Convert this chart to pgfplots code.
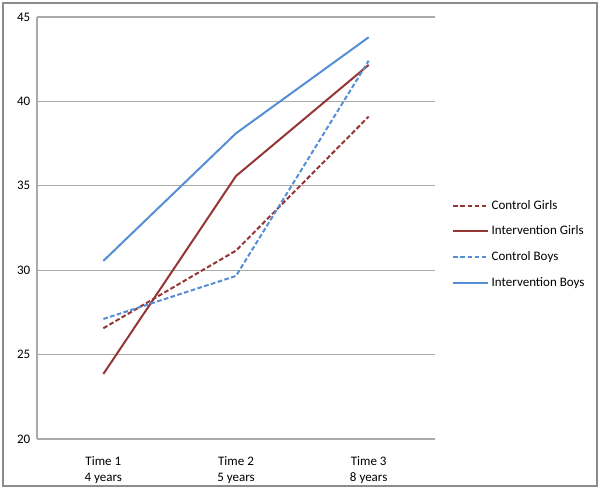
\documentclass[border=0pt]{standalone}
\usepackage{fontspec}
\setmainfont{Carlito}
\usepackage{pgfplots}
\pgfplotsset{compat=1.18}
\definecolor{cred}{RGB}{150,54,52}
\definecolor{cblue}{RGB}{85,142,213}
\definecolor{gridc}{RGB}{170,170,170}
\definecolor{framec}{RGB}{140,140,140}
\begin{document}
\begin{tikzpicture}
\useasboundingbox (-27.75pt,-37.5pt) rectangle (422.25pt,329.25pt);
\draw[framec, line width=1.1pt] (-25.5pt,-35.25pt) rectangle (420pt,327pt);
\begin{axis}[
  at={(0pt,0pt)}, anchor=south west,
  scale only axis,
  width=298.5pt, height=316.5pt,
  xmin=0.5, xmax=3.5,
  ymin=20, ymax=45,
  ytick={20,25,30,35,40,45},
  xtick={1,2,3},
  xticklabels={{Time 1\\4 years},{Time 2\\5 years},{Time 3\\8 years}},
  xticklabel style={align=center, yshift=-10pt},
  yticklabel style={xshift=-1.5pt},
  /pgf/number format/assume math mode=true,
  tick label style={font=\fontsize{9.75}{12}\selectfont, text=black},
  ymajorgrids,
  grid style={gridc, line width=0.8pt},
  major tick length=0pt,
  axis x line*=bottom,
  axis y line*=left,
  axis line style={gridc, line width=0.8pt, -},
  legend style={at={(1.043,0.573)}, anchor=north west, draw=none, fill=none,
    font=\fontsize{9.75}{11}\selectfont, row sep=7pt, inner sep=0pt},
  legend cell align=left,
  legend image code/.code={\draw[#1] (0pt,0pt) -- (26pt,0pt);},
]
\addplot[cred, line width=1.5pt, dash pattern=on 3.5pt off 1.8pt] coordinates {(1,26.56) (2,31.16) (3,39.1)};
\addlegendentry{Control Girls}
\addplot[cred, line width=1.5pt] coordinates {(1,23.85) (2,35.58) (3,42.16)};
\addlegendentry{Intervention Girls}
\addplot[cblue, line width=1.5pt, dash pattern=on 3.5pt off 1.8pt] coordinates {(1,27.11) (2,29.66) (3,42.41)};
\addlegendentry{Control Boys}
\addplot[cblue, line width=1.5pt] coordinates {(1,30.55) (2,38.11) (3,43.8)};
\addlegendentry{Intervention Boys}
\end{axis}
\end{tikzpicture}
\end{document}
